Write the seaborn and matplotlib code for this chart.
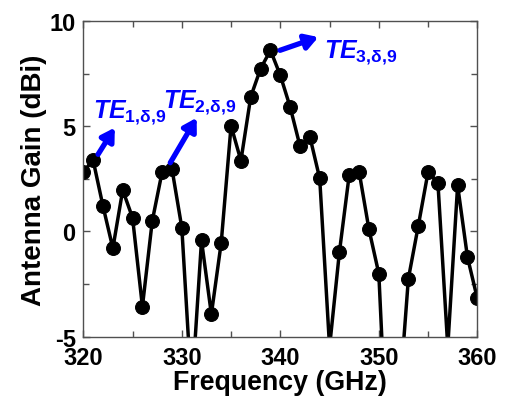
import numpy as np
import pandas as pd
import matplotlib
matplotlib.use("Agg")
import matplotlib.pyplot as plt
import seaborn as sns

freq = list(range(320, 361))
gain = [2.85, 3.38, 1.2, -0.8, 1.97, 0.65, -3.58, 0.5, 2.83, 2.98,
        0.18, -7.7, -0.43, -3.94, -0.54, 5.03, 3.37, 6.41, 7.75, 8.62,
        7.43, 5.92, 4.06, 4.51, 2.52, -5.5, -0.98, 2.71, 2.84, 0.1,
        -2.01, -12.0, -8.5, -2.25, 0.25, 2.83, 2.32, -5.5, 2.19, -1.22,
        -3.19]
mode_labels = [r"$\mathit{TE}_{\mathrm{1{,}\delta{,}9}}$",
               r"$\mathit{TE}_{\mathrm{2{,}\delta{,}9}}$",
               r"$\mathit{TE}_{\mathrm{3{,}\delta{,}9}}$"]
x_ticks = [320, 330, 340, 350, 360]
y_ticks = [-5, 0, 5, 10]
y_tick_labels = ["-5", "0", "5", "10"]

sns.set_style("ticks")
plt.rcParams['font.family'] = ['Liberation Sans', 'DejaVu Sans']
plt.rcParams['font.weight'] = 'bold'
plt.rcParams['text.color'] = 'black'
plt.rcParams['axes.labelcolor'] = 'black'
plt.rcParams['xtick.labelcolor'] = 'black'
plt.rcParams['ytick.labelcolor'] = 'black'
plt.rcParams['axes.unicode_minus'] = False
plt.rcParams['mathtext.fontset'] = 'custom'
plt.rcParams['mathtext.rm'] = 'Liberation Sans:bold'
plt.rcParams['mathtext.it'] = 'Liberation Sans:bold:italic'
plt.rcParams['mathtext.bf'] = 'Liberation Sans:bold'

df = pd.DataFrame({"Frequency": freq, "Gain": gain})

fig = plt.figure(figsize=(5.08, 4.02), dpi=100)
ax = fig.add_axes([0.164, 0.1604, 0.7756, 0.7841])
sns.lineplot(data=df, x="Frequency", y="Gain", ax=ax, color="black", lw=2.5,
             marker="o", markersize=10, markeredgecolor="black", sort=False)

ax.set_xlim(320, 360)
ax.set_ylim(-5, 10)
ax.set_xticks(x_ticks)
ax.set_xticklabels([str(v) for v in x_ticks])
ax.set_yticks(y_ticks)
ax.set_yticklabels(y_tick_labels)
ax.set_xticks(np.arange(325, 360, 10), minor=True)
ax.set_yticks(np.arange(-2.5, 10, 5), minor=True)
ax.tick_params(which='both', direction='in', top=True, right=True, color='#505050', width=1,
               labelsize=17, labelcolor='black')
ax.tick_params(axis='x', which='major', pad=6.5)
ax.tick_params(axis='y', which='major', pad=5.5)
ax.tick_params(which='major', length=5)
ax.tick_params(which='minor', length=4)
for lab in ax.get_xticklabels() + ax.get_yticklabels():
    lab.set_fontweight('bold')
for s in ax.spines.values():
    s.set_color('#505050')
    s.set_linewidth(1)

ax.set_xlabel("Frequency (GHz)", fontsize=19.3, fontweight='bold', labelpad=0.5, color='black')
ax.set_ylabel("Antenna Gain (dBi)", fontsize=20, fontweight='bold', labelpad=2, color='black')

arrows = [((321.5, 3.67), (323.2, 4.94)), ((328.83, 3.27), (331.51, 5.41)), ((339.97, 8.62), (343.86, 9.25))]
text_pos = [(320.95, 5.43), (328.1, 5.92), (344.4, 8.27)]
for (tail, head), (tx, ty), lab in zip(arrows, text_pos, mode_labels):
    ax.annotate("", xy=head, xytext=tail,
                arrowprops=dict(arrowstyle="-|>,head_length=0.75,head_width=0.45", lw=3.8,
                                color="#0000ff", shrinkA=0, shrinkB=0))
    ax.text(tx, ty, lab, color="#0000ff", fontsize=18, ha='left', va='baseline')

fig.savefig("out.png", dpi=100)
